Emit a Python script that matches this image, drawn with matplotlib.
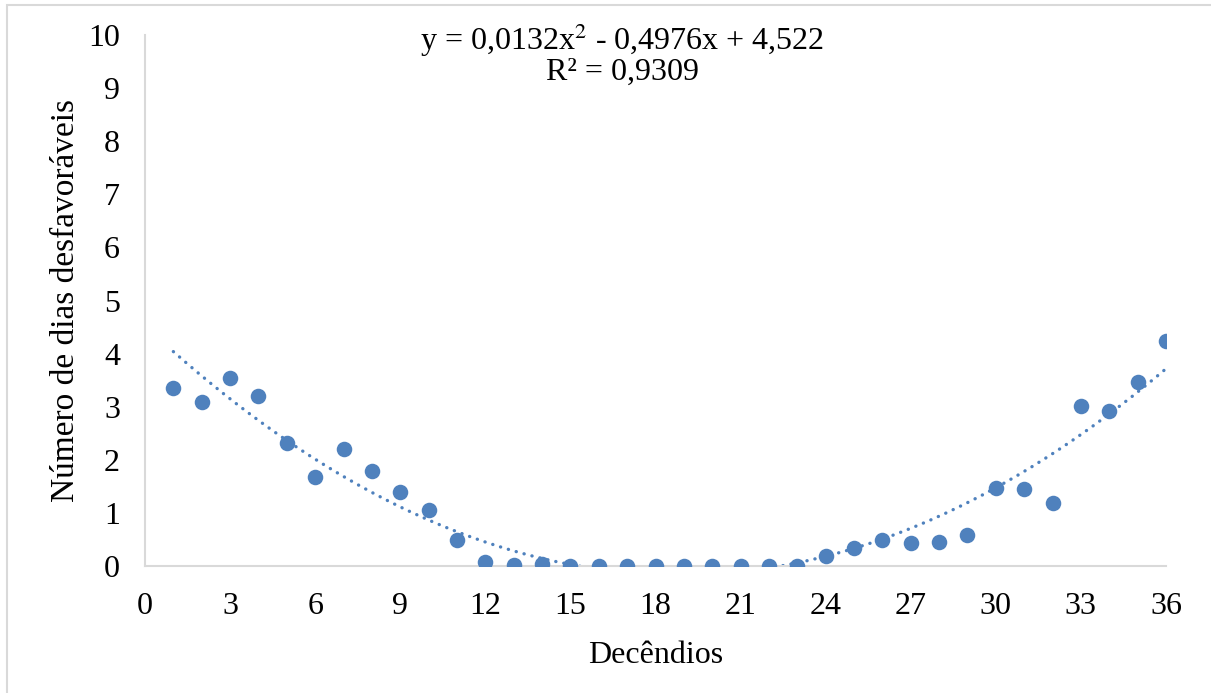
import numpy as np
import matplotlib
matplotlib.use("Agg")
import matplotlib.pyplot as plt
from matplotlib.patches import Rectangle

# Data
decendios = list(range(1, 37))
dias = [3.35, 3.09, 3.54, 3.20, 2.32, 1.68, 2.20, 1.79, 1.39, 1.05,
        0.49, 0.08, 0.01, 0.04, 0.0, 0.0, 0.0, 0.0, 0.0, 0.0,
        0.0, 0.0, 0.0, 0.19, 0.34, 0.49, 0.43, 0.45, 0.58, 1.47,
        1.45, 1.19, 3.01, 2.92, 3.47, 4.24]
trend_coef = [0.0132, -0.4976, 4.522]
x_ticks = list(range(0, 37, 3))
y_ticks = list(range(0, 11))

plt.rcParams['font.family'] = ['Liberation Serif', 'DejaVu Serif']

W, H = 1211, 693
fig = plt.figure(figsize=(W / 100, H / 100), dpi=100)
ax = fig.add_axes([145 / W, 1 - 566 / H, (1166 - 145) / W, (566 - 35) / H])

color = '#4f81bd'
ax.scatter(decendios, dias, s=125, color=color, zorder=3, linewidths=0)
xt = np.linspace(1, 36, 400)
ax.plot(xt, np.polyval(trend_coef, xt), linestyle=(0, (0.05, 2.4)), color=color,
        linewidth=2.4, dash_capstyle='round', zorder=2)

ax.set_xlim(0, 36)
ax.set_ylim(0, 10)
ax.set_xticks(x_ticks)
ax.set_yticks(y_ticks)
ax.tick_params(axis='both', length=0, labelsize=23, colors='black')
ax.tick_params(axis='y', pad=18)
ax.tick_params(axis='x', pad=19)
for s in ['top', 'right']:
    ax.spines[s].set_visible(False)
for s in ['left', 'bottom']:
    ax.spines[s].set_color('#d9d9d9')
    ax.spines[s].set_linewidth(1.5)

ax.set_xlabel('Decêndios', fontsize=23, labelpad=14)
ax.set_ylabel('Número de dias desfavoráveis', fontsize=24, labelpad=5)

fig.text(622 / W, 1 - 40 / H, 'y = 0,0132x$^2$ - 0,4976x + 4,522', fontsize=23,
         ha='center', va='center', math_fontfamily='stix')
fig.text(622 / W, 1 - 72 / H, 'R² = 0,9309', fontsize=23, ha='center', va='center')

fig.patches.append(Rectangle((7 / W, -0.1), 1.2, 1 - 5 / H + 0.1, transform=fig.transFigure,
                             fill=False, edgecolor='#d9d9d9', linewidth=1.5))

fig.savefig('out.png', dpi=100)
